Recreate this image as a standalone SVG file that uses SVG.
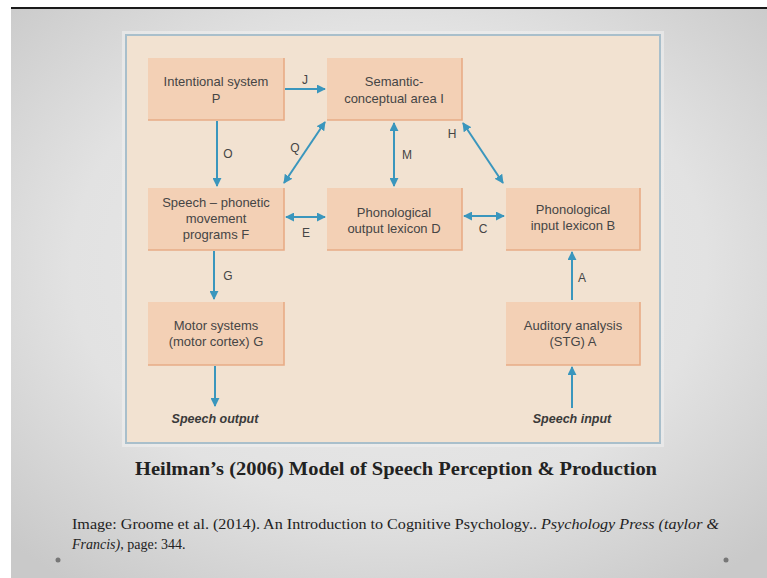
<svg xmlns="http://www.w3.org/2000/svg" width="767" height="578" viewBox="0 0 767 578">
<defs>
<radialGradient id="bg" cx="50%" cy="45%" r="70%">
<stop offset="0" stop-color="#ebebeb"/>
<stop offset="0.6" stop-color="#e2e2e2"/>
<stop offset="1" stop-color="#c9c9c9"/>
</radialGradient>
<marker id="ah" viewBox="0 0 10 10" refX="9" refY="5" markerWidth="4.5" markerHeight="4.5" orient="auto-start-reverse" markerUnits="strokeWidth">
<path d="M0,0 L10,5 L0,10 z" fill="#3a96bd"/>
</marker>
<style>
.box{fill:#f3d0b5;}
.edge{fill:none;stroke:#e8ac86;stroke-width:1.6;}
.bt{font-family:"Liberation Sans",Arial,sans-serif;font-size:13px;fill:#454545;text-anchor:middle;}
.lbl{font-family:"Liberation Sans",Arial,sans-serif;font-size:12px;fill:#454545;text-anchor:middle;}
.io{font-family:"Liberation Sans",Arial,sans-serif;font-size:12.5px;font-weight:bold;font-style:italic;fill:#3a3a3a;text-anchor:middle;}
.arr{stroke:#3a96bd;stroke-width:2;fill:none;}
.cap{font-family:"Liberation Serif","Times New Roman",serif;fill:#222;}
</style>
</defs>
<rect x="0" y="0" width="767" height="578" fill="#ffffff"/>
<rect x="11" y="9" width="756" height="569" fill="url(#bg)"/>
<rect x="11" y="7" width="756" height="2" fill="#1a1a1a"/>
<rect x="122" y="31" width="542" height="416" fill="#f0f0f0" opacity="0.6"/>
<rect x="126" y="35" width="534" height="408" fill="#f2e2d1" stroke="#a9bfcb" stroke-width="2"/>

<g id="nodeP">
<rect class="box" x="148" y="58" width="136" height="62"/>
<path class="edge" d="M284,58 V120 H148"/>
<text class="bt" x="216" y="86">Intentional system</text>
<text class="bt" x="216" y="103">P</text>
</g>
<g id="nodeI">
<rect class="box" x="327" y="58" width="135" height="62"/>
<path class="edge" d="M462,58 V120 H327"/>
<text class="bt" x="394" y="86">Semantic-</text>
<text class="bt" x="394" y="103">conceptual area I</text>
</g>
<g id="nodeF">
<rect class="box" x="148" y="188" width="136" height="62"/>
<path class="edge" d="M284,188 V250 H148"/>
<text class="bt" x="216" y="207">Speech – phonetic</text>
<text class="bt" x="216" y="223">movement</text>
<text class="bt" x="216" y="239">programs F</text>
</g>
<g id="nodeD">
<rect class="box" x="327" y="188" width="135" height="62"/>
<path class="edge" d="M462,188 V250 H327"/>
<text class="bt" x="394" y="217">Phonological</text>
<text class="bt" x="394" y="233">output lexicon D</text>
</g>
<g id="nodeB">
<rect class="box" x="506" y="188" width="134" height="62"/>
<path class="edge" d="M640,188 V250 H506"/>
<text class="bt" x="573" y="214">Phonological</text>
<text class="bt" x="573" y="230">input lexicon B</text>
</g>
<g id="nodeG">
<rect class="box" x="148" y="302" width="136" height="63"/>
<path class="edge" d="M284,302 V365 H148"/>
<text class="bt" x="216" y="330">Motor systems</text>
<text class="bt" x="216" y="346">(motor cortex) G</text>
</g>
<g id="nodeA">
<rect class="box" x="506" y="302" width="134" height="63"/>
<path class="edge" d="M640,302 V365 H506"/>
<text class="bt" x="573" y="330">Auditory analysis</text>
<text class="bt" x="573" y="346">(STG) A</text>
</g>

<g id="connectors">
<line class="arr" x1="285" y1="89" x2="325" y2="89" marker-end="url(#ah)"/>
<line class="arr" x1="217" y1="121" x2="217" y2="186" marker-end="url(#ah)"/>
<line class="arr" x1="284" y1="183" x2="325" y2="122" marker-start="url(#ah)" marker-end="url(#ah)"/>
<line class="arr" x1="394" y1="123" x2="394" y2="186" marker-start="url(#ah)" marker-end="url(#ah)"/>
<line class="arr" x1="286" y1="217" x2="325" y2="217" marker-start="url(#ah)" marker-end="url(#ah)"/>
<line class="arr" x1="463" y1="123" x2="503" y2="183" marker-start="url(#ah)" marker-end="url(#ah)"/>
<line class="arr" x1="464" y1="216" x2="504" y2="216" marker-start="url(#ah)" marker-end="url(#ah)"/>
<line class="arr" x1="214" y1="251" x2="214" y2="299" marker-end="url(#ah)"/>
<line class="arr" x1="215" y1="366" x2="215" y2="406" marker-end="url(#ah)"/>
<line class="arr" x1="572" y1="300" x2="572" y2="252" marker-end="url(#ah)"/>
<line class="arr" x1="572" y1="408" x2="572" y2="367" marker-end="url(#ah)"/>
<text class="lbl" x="305" y="84">J</text>
<text class="lbl" x="228" y="158">O</text>
<text class="lbl" x="295" y="152">Q</text>
<text class="lbl" x="407" y="159">M</text>
<text class="lbl" x="306" y="237">E</text>
<text class="lbl" x="452" y="138">H</text>
<text class="lbl" x="483" y="233">C</text>
<text class="lbl" x="228" y="280">G</text>
<text class="lbl" x="582" y="282">A</text>
<text class="io" x="215" y="423">Speech output</text>
<text class="io" x="572" y="423">Speech input</text>
</g>

<text class="cap" x="135" y="475" font-size="19" font-weight="bold" textLength="522" lengthAdjust="spacingAndGlyphs">Heilman’s (2006) Model of Speech Perception &amp; Production</text>
<text class="cap" x="72" y="529" font-size="14" textLength="647" lengthAdjust="spacingAndGlyphs">Image: Groome et al. (2014). An Introduction to Cognitive Psychology..  <tspan font-style="italic">Psychology Press (taylor &amp;</tspan></text>
<text class="cap" x="72" y="549" font-size="14"><tspan font-style="italic">Francis)</tspan>, page: 344.</text>
<circle cx="58" cy="560" r="2.5" fill="#777"/>
<circle cx="726" cy="560" r="2.5" fill="#777"/>
</svg>
